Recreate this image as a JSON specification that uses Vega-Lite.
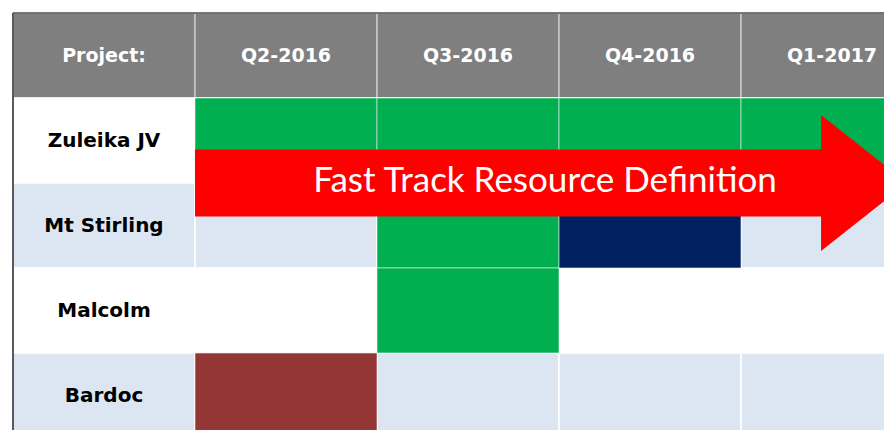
{
  "$schema": "https://vega.github.io/schema/vega-lite/v6.json",
  "width": 871,
  "height": 417,
  "autosize": {"type": "none"},
  "padding": {"left": 13, "top": 13, "right": 0, "bottom": 0},
  "background": "white",
  "config": {"view": {"stroke": null}},
  "datasets": {
    "columns": [
      {"column": "Project:"},
      {"column": "Q2-2016"},
      {"column": "Q3-2016"},
      {"column": "Q4-2016"},
      {"column": "Q1-2017"}
    ],
    "projects": [
      {"project": "Zuleika JV"},
      {"project": "Mt Stirling"},
      {"project": "Malcolm"},
      {"project": "Bardoc"}
    ],
    "grid": [
      {"project": "Zuleika JV", "column": "Project:"},
      {"project": "Zuleika JV", "column": "Q2-2016"},
      {"project": "Zuleika JV", "column": "Q3-2016"},
      {"project": "Zuleika JV", "column": "Q4-2016"},
      {"project": "Zuleika JV", "column": "Q1-2017"},
      {"project": "Mt Stirling", "column": "Project:"},
      {"project": "Mt Stirling", "column": "Q2-2016"},
      {"project": "Mt Stirling", "column": "Q3-2016"},
      {"project": "Mt Stirling", "column": "Q4-2016"},
      {"project": "Mt Stirling", "column": "Q1-2017"},
      {"project": "Malcolm", "column": "Project:"},
      {"project": "Malcolm", "column": "Q2-2016"},
      {"project": "Malcolm", "column": "Q3-2016"},
      {"project": "Malcolm", "column": "Q4-2016"},
      {"project": "Malcolm", "column": "Q1-2017"},
      {"project": "Bardoc", "column": "Project:"},
      {"project": "Bardoc", "column": "Q2-2016"},
      {"project": "Bardoc", "column": "Q3-2016"},
      {"project": "Bardoc", "column": "Q4-2016"},
      {"project": "Bardoc", "column": "Q1-2017"}
    ],
    "activities": [
      {"project": "Zuleika JV", "column": "Q2-2016", "status": "In progress"},
      {"project": "Zuleika JV", "column": "Q3-2016", "status": "In progress"},
      {"project": "Zuleika JV", "column": "Q4-2016", "status": "In progress"},
      {"project": "Zuleika JV", "column": "Q1-2017", "status": "In progress"},
      {"project": "Mt Stirling", "column": "Q3-2016", "status": "In progress"},
      {"project": "Mt Stirling", "column": "Q4-2016", "status": "Scheduled"},
      {"project": "Malcolm", "column": "Q3-2016", "status": "In progress"},
      {"project": "Bardoc", "column": "Q2-2016", "status": "Complete"}
    ],
    "arrowShaft": [
      {"start": 0, "end": 3.45, "low": 1.606, "high": 2.394}
    ],
    "arrowHead": [
      {"quarter": 3.44, "low": 1.2, "high": 2.8},
      {"quarter": 3.91, "low": 1.995, "high": 2.005}
    ],
    "arrowLabel": [
      {"text": "Fast Track Resource Definition", "quarter": 1.923, "row": 2.105}
    ]
  },
  "layer": [
    {
      "layer": [
        {
          "data": {"name": "columns"},
          "mark": {"type": "rect", "fill": "#7F7F7F", "stroke": "#C8C8C8", "strokeWidth": 1.5},
          "encoding": {
            "x": {"field": "column", "type": "nominal", "axis": null,
                  "scale": {"type": "band", "domain": ["Project:", "Q2-2016", "Q3-2016", "Q4-2016", "Q1-2017"], "range": [0, 910], "paddingInner": 0, "paddingOuter": 0}},
            "y": {"datum": "Header", "type": "nominal", "axis": null,
                  "scale": {"type": "band", "domain": ["Header", "Zuleika JV", "Mt Stirling", "Malcolm", "Bardoc"], "range": [0, 425], "paddingInner": 0, "paddingOuter": 0}}
          }
        },
        {
          "data": {"name": "grid"},
          "mark": {"type": "rect", "stroke": "white", "strokeWidth": 1.5},
          "encoding": {
            "x": {"field": "column", "type": "nominal"},
            "y": {"field": "project", "type": "nominal"},
            "fill": {"condition": {"test": "datum.project === 'Mt Stirling' || datum.project === 'Bardoc'", "value": "#DCE6F2"}, "value": "#FFFFFF"}
          }
        },
        {
          "data": {"name": "activities"},
          "mark": {"type": "rect", "stroke": "#F2F2F2", "strokeOpacity": 0.6, "strokeWidth": 1},
          "encoding": {
            "x": {"field": "column", "type": "nominal"},
            "y": {"field": "project", "type": "nominal"},
            "fill": {"field": "status", "type": "nominal", "legend": null,
                     "scale": {"domain": ["In progress", "Scheduled", "Complete"], "range": ["#00B050", "#002060", "#943634"]}}
          }
        },
        {
          "data": {"name": "columns"},
          "mark": {"type": "text", "color": "white", "font": "DejaVu Sans", "fontWeight": "bold", "fontSize": 19},
          "encoding": {
            "x": {"field": "column", "type": "nominal"},
            "y": {"datum": "Header", "type": "nominal"},
            "text": {"field": "column"}
          }
        },
        {
          "data": {"name": "projects"},
          "mark": {"type": "text", "color": "black", "font": "DejaVu Sans", "fontWeight": "bold", "fontSize": 20},
          "encoding": {
            "x": {"datum": "Project:", "type": "nominal"},
            "y": {"field": "project", "type": "nominal"},
            "text": {"field": "project"}
          }
        },
        {
          "data": {"values": [{}]},
          "mark": {"type": "rule", "color": "#595959", "strokeWidth": 2},
          "encoding": {
            "x": {"datum": "Project:", "type": "nominal", "bandPosition": 0}
          }
        },
        {
          "data": {"values": [{}]},
          "mark": {"type": "rule", "color": "#595959", "strokeWidth": 1.5},
          "encoding": {
            "y": {"datum": "Header", "type": "nominal", "bandPosition": 0}
          }
        }
      ]
    },
    {
      "layer": [
        {
          "data": {"name": "arrowShaft"},
          "mark": {"type": "rect", "color": "#FF0000"},
          "encoding": {
            "x": {"field": "start", "type": "quantitative", "axis": null,
                  "scale": {"domain": [-1, 4], "range": [0, 910], "zero": false, "nice": false}},
            "x2": {"field": "end"},
            "y": {"field": "low", "type": "quantitative", "axis": null,
                  "scale": {"domain": [0, 5], "range": [0, 425], "zero": false, "nice": false}},
            "y2": {"field": "high"}
          }
        },
        {
          "data": {"name": "arrowHead"},
          "mark": {"type": "area", "color": "#FF0000", "interpolate": "linear", "orient": "vertical"},
          "encoding": {
            "x": {"field": "quarter", "type": "quantitative"},
            "y": {"field": "low", "type": "quantitative", "stack": null},
            "y2": {"field": "high"}
          }
        },
        {
          "data": {"name": "arrowLabel"},
          "mark": {"type": "text", "color": "white", "font": "Lato", "fontSize": 35, "baseline": "alphabetic", "align": "center"},
          "encoding": {
            "x": {"field": "quarter", "type": "quantitative"},
            "y": {"field": "row", "type": "quantitative"},
            "text": {"field": "text"}
          }
        }
      ]
    }
  ],
  "resolve": {"scale": {"x": "independent", "y": "independent", "fill": "independent"}}
}
